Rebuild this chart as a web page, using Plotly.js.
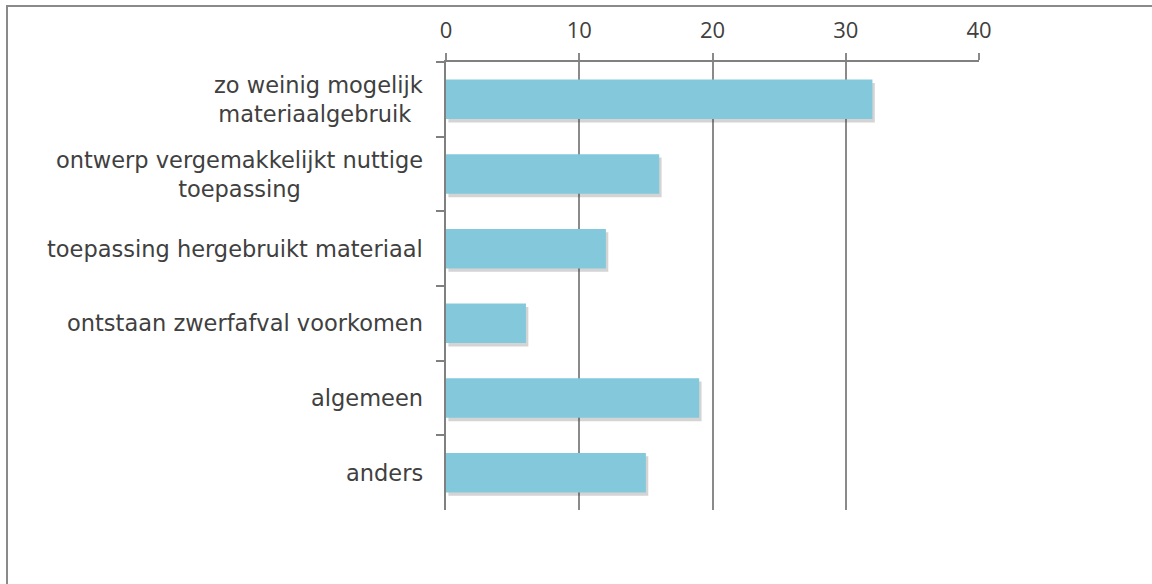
<!DOCTYPE html>
<html>
<head>
<meta charset="utf-8">
<script src="https://cdn.plot.ly/plotly-3.0.1.min.js"></script>
<style>html,body{margin:0;padding:0;background:#fff;}#chart{width:1152px;height:584px;}</style>
</head>
<body>
<div id="chart"></div>
<script>
const categories = [
  "zo weinig mogelijk<br>materiaalgebruik ",
  "ontwerp vergemakkelijkt nuttige<br>toepassing",
  "toepassing hergebruikt materiaal",
  "ontstaan zwerfafval voorkomen",
  "algemeen",
  "anders"
];
const values = [32, 16, 12, 6, 19, 15];
const xTickValues = [0, 10, 20, 30, 40];
const xTickLabels = ["0", "10", "20", "30", "40"];

const W = 1152, H = 584;
const mL = 446, mR = 173, mT = 62, mB = 74;
const pw = W - mL - mR, ph = H - mT - mB;
const px2x = p => (p - mL) / pw;
const py2y = p => (H - mB - p) / ph;

const barWidth = 0.53;

const shadow = {
  type: 'bar', orientation: 'h',
  y: categories, x: values, base: 0.18,
  width: barWidth, offset: -barWidth / 2 + 0.045,
  marker: { color: 'rgba(60,60,60,0.22)' },
  hoverinfo: 'skip', showlegend: false
};
const bars = {
  type: 'bar', orientation: 'h',
  y: categories, x: values,
  width: barWidth, offset: -barWidth / 2,
  marker: { color: '#84C9DB' },
  showlegend: false
};

const labelFont = { family: 'DejaVu Sans', size: 22.5, color: '#404040' };
const annotations = categories.map(c => ({
  xref: 'paper', yref: 'y', x: px2x(425), y: c,
  text: c, showarrow: false, xanchor: 'right', yanchor: 'middle',
  align: 'center', font: labelFont
}));

const layout = {
  width: W, height: H,
  margin: { l: mL, r: mR, t: mT, b: mB, pad: 0 },
  paper_bgcolor: '#fff', plot_bgcolor: '#fff',
  barmode: 'overlay',
  showlegend: false,
  xaxis: {
    side: 'top', range: [0, 40], tickvals: xTickValues, ticktext: xTickLabels,
    showgrid: true, gridcolor: '#8a8a8a', gridwidth: 2,
    zeroline: false, showline: true, linecolor: '#808080', linewidth: 2,
    ticks: 'outside', ticklen: 7, tickwidth: 2, tickcolor: '#8a8a8a',
    ticklabelstandoff: 6,
    tickfont: { family: 'Open Sans', size: 22, color: '#404040' },
    fixedrange: true
  },
  yaxis: {
    type: 'category', autorange: 'reversed',
    showticklabels: false, showgrid: false, zeroline: false,
    showline: true, linecolor: '#808080', linewidth: 2,
    ticks: 'outside', ticklen: 8, tickwidth: 2, tickcolor: '#808080',
    tickson: 'boundaries', fixedrange: true
  },
  annotations: annotations,
  shapes: [{
    type: 'rect', xref: 'paper', yref: 'paper',
    x0: px2x(7), x1: px2x(1170), y0: py2y(600), y1: py2y(6),
    line: { color: '#8a8a8a', width: 2 }, fillcolor: 'rgba(0,0,0,0)', layer: 'below'
  }]
};

Plotly.newPlot('chart', [shadow, bars], layout, { displayModeBar: false, staticPlot: true });
</script>
</body>
</html>
